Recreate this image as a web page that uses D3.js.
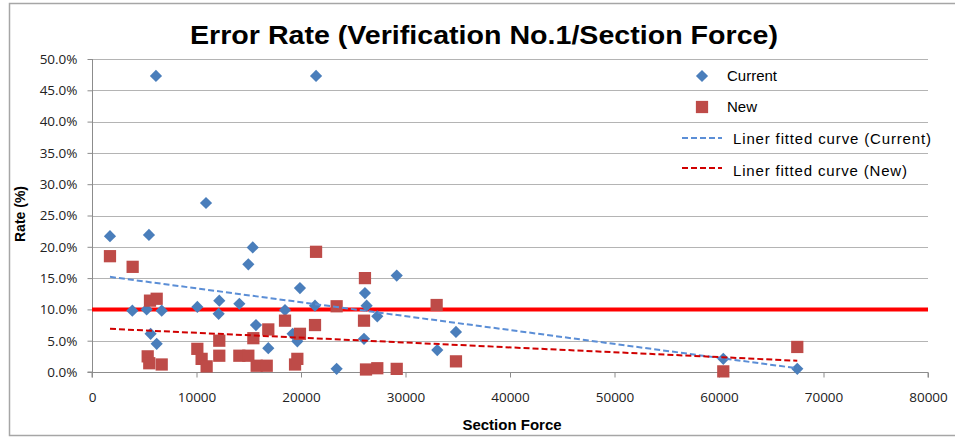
<!DOCTYPE html>
<html>
<head>
<meta charset="utf-8">
<script src="https://cdn.jsdelivr.net/npm/d3@7"></script>
<style>
  html, body { margin: 0; padding: 0; background: #fff; }
  svg { display: block; }
</style>
</head>
<body>
<svg id="chart" width="955" height="440"></svg>
<script>
// ---- data (Section Force, Rate %) ----
const currentX = [1720, 3860, 5230, 5450, 5610, 6120, 6190, 6670, 10080, 10910, 12120, 12180, 14100, 14960, 15380, 15690, 16870, 18470, 19200, 19650, 19900, 21340, 21440, 23410, 26030, 26120, 26280, 27300, 29160, 33040, 34830, 60410, 67490];
const currentY = [21.7, 9.8, 10.0, 21.9, 6.1, 47.3, 4.5, 9.8, 10.4, 27.0, 9.3, 11.4, 10.9, 17.2, 19.9, 7.5, 3.8, 9.9, 6.1, 4.9, 13.4, 10.6, 47.3, 0.5, 5.3, 12.6, 10.6, 8.9, 15.4, 3.5, 6.4, 2.1, 0.5];
const newX = [1720, 3890, 5330, 5480, 5550, 6190, 6670, 10080, 10490, 10970, 12180, 12180, 14100, 14960, 15440, 15760, 16720, 16870, 18470, 19430, 19650, 19900, 21340, 21440, 23410, 26030, 26120, 26220, 27300, 29160, 32980, 34830, 60410, 67490];
const newY = [18.5, 16.8, 2.5, 1.4, 11.4, 11.7, 1.2, 3.7, 2.1, 0.9, 5.0, 2.6, 2.6, 2.6, 5.4, 1.0, 1.0, 6.8, 8.2, 1.2, 2.1, 6.1, 7.5, 19.2, 10.5, 8.2, 15.0, 0.4, 0.6, 0.5, 10.7, 1.7, 0.1, 4.0];
// fitted trend lines (start/end)
const trendCurrentX = [1720, 67490];
const trendCurrentY = [15.2, 0.6];
const trendNewX = [1720, 67490];
const trendNewY = [6.9, 1.8];
// threshold line
const limitX = [0, 80000];
const limitY = [10, 10];
// ticks
const xTicks = [0, 10000, 20000, 30000, 40000, 50000, 60000, 70000, 80000];
const yTicks = [0, 5, 10, 15, 20, 25, 30, 35, 40, 45, 50];
const legendLabels = ["Current", "New", "Liner fitted curve (Current)", "Liner fitted curve (New)"];

const svg = d3.select("#chart");
const pLeft = 92, pRight = 928, pTop = 59, pBottom = 372;
const x = d3.scaleLinear().domain([0, 80000]).range([pLeft, pRight]);
const y = d3.scaleLinear().domain([0, 50]).range([pBottom, pTop]);

// outer border
svg.append("rect").attr("x", 9.5).attr("y", 3.5).attr("width", 960).attr("height", 432)
  .attr("fill", "none").attr("stroke", "#a6a6a6").attr("stroke-width", 1.5);

// title
svg.append("text").attr("x", 484).attr("y", 44).attr("text-anchor", "middle")
  .attr("font-family", "Liberation Sans, Arial, sans-serif").attr("font-weight", "bold")
  .attr("font-size", 25).attr("textLength", 588).attr("lengthAdjust", "spacingAndGlyphs")
  .attr("fill", "#000").text("Error Rate (Verification No.1/Section Force)");

// gridlines
svg.append("g").selectAll("line").data(yTicks.filter(d => d > 0)).join("line")
  .attr("x1", pLeft).attr("x2", pRight).attr("y1", d => Math.round(y(d)) + 0.5).attr("y2", d => Math.round(y(d)) + 0.5)
  .attr("stroke", "#b4b4b4").attr("stroke-width", 1);

// axes
const yAxis = d3.axisLeft(y).tickValues(yTicks).tickSize(5).tickPadding(10).tickFormat(d => d.toFixed(1) + "%");
const gy = svg.append("g").attr("transform", `translate(${pLeft + 0.5},0)`).call(yAxis);
const xAxis = d3.axisBottom(x).tickValues(xTicks).tickSize(5).tickPadding(15).tickFormat(d => String(d));
const gx = svg.append("g").attr("transform", `translate(0,${pBottom + 0.5})`).call(xAxis);
[gx, gy].forEach(g => {
  g.select(".domain").attr("stroke", "#8c8c8c");
  g.selectAll(".tick line").attr("stroke", "#8c8c8c");
  g.selectAll("text").attr("font-family", "Open Sans, sans-serif").attr("font-size", 13.5).attr("fill", "#222");
});
gy.select(".domain").attr("d", `M-5,${pBottom}H0V${pTop}`);
gx.select(".domain").attr("d", `M${pLeft},5V0H${pRight}V5`);

// axis titles
svg.append("text").attr("transform", "translate(25,214) rotate(-90)").attr("text-anchor", "middle")
  .attr("font-family", "Liberation Sans, Arial, sans-serif").attr("font-weight", "bold").attr("font-size", 14)
  .text("Rate (%)");
svg.append("text").attr("x", 512).attr("y", 430).attr("text-anchor", "middle")
  .attr("font-family", "Liberation Sans, Arial, sans-serif").attr("font-weight", "bold").attr("font-size", 15)
  .text("Section Force");

// threshold line
const line = d3.line().x(d => x(d[0])).y(d => y(d[1]));
svg.append("path").datum(limitX.map((v, i) => [v, limitY[i]])).attr("d", line)
  .attr("stroke", "#ff0000").attr("stroke-width", 4).attr("fill", "none");

// points
const diamond = d3.symbol().type(d3.symbolDiamond2).size(95);
const square = d3.symbol().type(d3.symbolSquare).size(150);
svg.append("g").selectAll("path").data(currentX.map((v, i) => [v, currentY[i]])).join("path")
  .attr("d", diamond).attr("transform", d => `translate(${x(d[0])},${y(d[1])})`).attr("fill", "#4a7ebb");
svg.append("g").selectAll("path").data(newX.map((v, i) => [v, newY[i]])).join("path")
  .attr("d", square).attr("transform", d => `translate(${x(d[0])},${y(d[1])})`).attr("fill", "#be4b48");

// trend lines
svg.append("path").datum(trendCurrentX.map((v, i) => [v, trendCurrentY[i]])).attr("d", line)
  .attr("stroke", "#5b8ed6").attr("stroke-width", 2).attr("stroke-dasharray", "6,3").attr("fill", "none");
svg.append("path").datum(trendNewX.map((v, i) => [v, trendNewY[i]])).attr("d", line)
  .attr("stroke", "#d00000").attr("stroke-width", 2).attr("stroke-dasharray", "6,3").attr("fill", "none");

// legend
const lg = svg.append("g").attr("font-family", "Liberation Sans, Arial, sans-serif").attr("font-size", 15).attr("fill", "#000");
const ly = [76, 107, 139, 171];
lg.append("path").attr("d", diamond).attr("transform", `translate(702,${ly[0]})`).attr("fill", "#4a7ebb");
lg.append("path").attr("d", square).attr("transform", `translate(702,${ly[1]})`).attr("fill", "#be4b48");
lg.append("line").attr("x1", 682).attr("x2", 722).attr("y1", ly[2] - 1).attr("y2", ly[2] - 1)
  .attr("stroke", "#5b8ed6").attr("stroke-width", 2).attr("stroke-dasharray", "6,3");
lg.append("line").attr("x1", 682).attr("x2", 722).attr("y1", ly[3] - 3).attr("y2", ly[3] - 3)
  .attr("stroke", "#d00000").attr("stroke-width", 2).attr("stroke-dasharray", "6,3");
const lx = [727, 727, 733, 733];
const lw = [null, null, 198, 174];
legendLabels.forEach((t, i) => {
  const tx = lg.append("text").attr("x", lx[i]).attr("y", ly[i]).attr("dy", "0.35em").text(t);
  if (lw[i]) tx.attr("textLength", lw[i]).attr("lengthAdjust", "spacing");
});
</script>
</body>
</html>
